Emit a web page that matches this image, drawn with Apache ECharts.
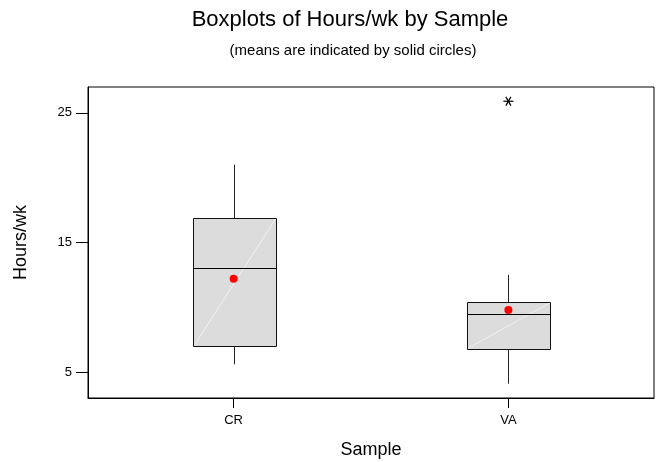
<!DOCTYPE html>
<html>
<head>
<meta charset="utf-8">
<script src="https://cdn.jsdelivr.net/npm/echarts@6/dist/echarts.min.js"></script>
<style>
  html, body { margin: 0; padding: 0; background: #fff; }
  #chart { width: 656px; height: 462px; }
</style>
</head>
<body>
<div id="chart"></div>
<script>
// Hours per week, by sample
const categories = ['CR', 'VA'];
const lowWhisker = [5.6, 4.1];
const q1 = [7.0, 6.8];
const median = [13.0, 9.5];
const q3 = [16.9, 10.4];
const highWhisker = [21.0, 12.5];
const means = [12.2, 9.8];
// outliers: [category index, value]
const outliers = [[1, 25.9]];
const yTicks = [5, 15, 25];

const FONT = '"Liberation Sans", Arial, sans-serif';
const BOX_HALF = 0.152; // half box width in x-axis units

const boxData = categories.map((c, i) => [i + 1, lowWhisker[i], q1[i], median[i], q3[i], highWhisker[i]]);
const meanData = categories.map((c, i) => [i + 1, means[i]]);
const outlierData = outliers.map(o => [o[0] + 1, o[1]]);

function renderBox(params, api) {
  const x = api.value(0);
  const lo = api.coord([x, api.value(1)]);
  const b1 = api.coord([x, api.value(2)]);
  const md = api.coord([x, api.value(3)]);
  const b3 = api.coord([x, api.value(4)]);
  const hi = api.coord([x, api.value(5)]);
  const hw = api.size([BOX_HALF, 0])[0];
  const cx = Math.round(lo[0]) + 0.5;
  const left = Math.round(cx - hw);
  const right = Math.round(cx + hw);
  const top = Math.round(b3[1]);
  const bottom = Math.round(b1[1]);
  const lineStyle = { stroke: '#222', lineWidth: 1 };
  return {
    type: 'group',
    children: [
      { type: 'line', shape: { x1: cx, y1: lo[1], x2: cx, y2: bottom }, style: lineStyle },
      { type: 'line', shape: { x1: cx, y1: top, x2: cx, y2: hi[1] }, style: lineStyle },
      { type: 'rect', shape: { x: left + 0.5, y: top + 0.5, width: right - left, height: bottom - top },
        style: { fill: '#dcdcdc', stroke: '#111', lineWidth: 1 } },
      { type: 'line', shape: { x1: left + 1.5, y1: bottom - 1, x2: right - 0.5, y2: top + 1 },
        style: { stroke: 'rgba(255,255,255,0.55)', lineWidth: 1 } },
      { type: 'line', shape: { x1: left, y1: Math.round(md[1]) + 0.5, x2: right + 1, y2: Math.round(md[1]) + 0.5 },
        style: { stroke: '#000', lineWidth: 1 } }
    ]
  };
}

function renderStar(params, api) {
  const p = api.coord([api.value(0), api.value(1)]);
  const r = 5;
  const dx = r * 0.5, dy = r * 0.866;
  const st = { stroke: '#000', lineWidth: 1.2 };
  return {
    type: 'group',
    children: [
      { type: 'line', shape: { x1: p[0] - r, y1: p[1], x2: p[0] + r, y2: p[1] }, style: st },
      { type: 'line', shape: { x1: p[0] - dx, y1: p[1] - dy, x2: p[0] + dx, y2: p[1] + dy }, style: st },
      { type: 'line', shape: { x1: p[0] + dx, y1: p[1] - dy, x2: p[0] - dx, y2: p[1] + dy }, style: st }
    ]
  };
}

const chart = echarts.init(document.getElementById('chart'), null, { renderer: 'canvas' });
chart.setOption({
  backgroundColor: '#fff',
  animation: false,
  textStyle: { fontFamily: FONT },
  title: [
    { text: 'Boxplots of Hours/wk by Sample', left: 345, top: 4, textAlign: 'center',
      textStyle: { fontFamily: FONT, fontSize: 22, fontWeight: 'normal', color: '#000' } },
    { text: '(means are indicated by solid circles)', left: 348, top: 38, textAlign: 'center',
      textStyle: { fontFamily: FONT, fontSize: 15, fontWeight: 'normal', color: '#000' } }
  ],
  grid: { left: 88, right: 2, top: 87, bottom: 64, outerBoundsMode: 'none', containLabel: false,
    show: true, borderColor: '#000', borderWidth: 1, backgroundColor: 'transparent' },
  xAxis: {
    type: 'value', min: 0.47, max: 2.53,
    name: 'Sample', nameLocation: 'middle', nameGap: 43,
    nameTextStyle: { fontFamily: FONT, fontSize: 18, color: '#000' },
    axisLine: { show: true, lineStyle: { color: '#000' } },
    axisTick: { show: true, length: 10, lineStyle: { color: '#000' }, customValues: [1, 2] },
    axisLabel: { customValues: [1, 2], formatter: v => categories[Math.round(v) - 1] || '',
      fontFamily: FONT, fontSize: 13, color: '#000', margin: 16 },
    splitLine: { show: false }
  },
  yAxis: {
    type: 'value', min: 3, max: 27,
    name: 'Hours/wk', nameLocation: 'middle', nameGap: 58, nameRotate: 90,
    nameTextStyle: { fontFamily: FONT, fontSize: 18, color: '#000' },
    axisLine: { show: true, lineStyle: { color: '#000' } },
    axisTick: { show: true, length: 12, lineStyle: { color: '#000' }, customValues: yTicks },
    axisLabel: { customValues: yTicks, fontFamily: FONT, fontSize: 13, color: '#000', margin: 16 },
    splitLine: { show: false }
  },
  series: [
    { type: 'custom', renderItem: renderBox, data: boxData, encode: { x: 0, y: [1, 2, 3, 4, 5] }, z: 2 },
    { type: 'scatter', data: meanData, symbol: 'circle', symbolSize: 8,
      itemStyle: { color: '#ff0000', opacity: 1 }, z: 3 },
    { type: 'custom', renderItem: renderStar, data: outlierData, encode: { x: 0, y: 1 }, z: 3 }
  ]
});
</script>
</body>
</html>
